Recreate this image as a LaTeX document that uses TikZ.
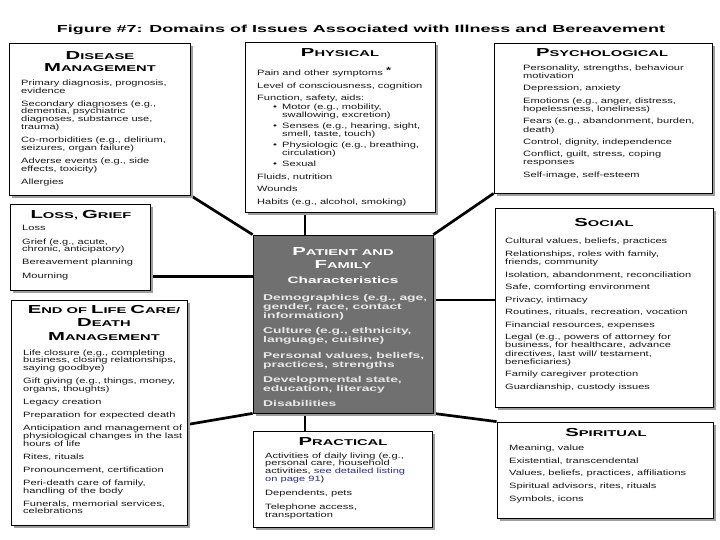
\documentclass[tikz,border=0pt]{standalone}
\usepackage{fontspec}
\setmainfont{Liberation Sans}[FakeStretch=1.44]
\newfontfamily\hdfont{Liberation Sans}[FakeStretch=1.75]
\newfontfamily\pffont{Liberation Sans}[FakeStretch=1.65]
\newfontfamily\ttlfont{Liberation Sans}[FakeStretch=1.76]
\usetikzlibrary{shadows,backgrounds}
\definecolor{shd}{gray}{0.62}
\definecolor{pfgray}{HTML}{707070}
\definecolor{pftext}{HTML}{E8E8E8}
\definecolor{linkblue}{HTML}{2A2AA8}
\newcommand\SCx[2]{{\fontsize{11.6}{12}\selectfont #1}{\fontsize{8.4}{12}\selectfont #2}}
\newcommand\bul{\hspace*{16pt}\makebox[9pt][l]{\textbullet}}
\newcommand\bulc{\hspace*{25pt}}
\begin{document}
\begin{tikzpicture}[x=1pt,y=-1pt,
  box/.style={draw=black, line width=0.8pt, fill=white, inner sep=0pt,
    drop shadow={shadow xshift=3pt,shadow yshift=-3pt,fill=shd,opacity=1}},
  conn/.style={line width=2.7pt, black},
  hd/.style={font=\hdfont\bfseries\fontsize{8.4}{12.5}\selectfont, align=center, inner sep=0pt, anchor=north},
  body/.style={font=\fontsize{7.7}{8.3}\selectfont, text=black!90, align=left, inner sep=0pt, anchor=north west}]
\useasboundingbox (0,0) rectangle (720,540);

% title
\node[anchor=base, inner sep=0pt, font=\ttlfont\bfseries\fontsize{10.2}{12}\selectfont] (title) at (361,32.3)
  {Figure \#7: Domains of Issues Associated with Illness and Bereavement};

% boxes
\node[box, minimum width=181pt, minimum height=152pt] (dm) at (99.5,119) {};
\node[box, minimum width=190pt, minimum height=170pt] (ph) at (340,127) {};
\node[box, minimum width=218pt, minimum height=150pt] (ps) at (603,118) {};
\node[box, minimum width=140pt, minimum height=86pt] (lg) at (80,247) {};
\node[box, fill=pfgray, minimum width=180pt, minimum height=178pt] (pf) at (343,324) {};
\node[box, minimum width=218pt, minimum height=199pt] (so) at (604,307.5) {};
\node[box, minimum width=176pt, minimum height=225pt] (el) at (99,412.5) {};
\node[box, minimum width=179pt, minimum height=96pt] (pr) at (342.5,479) {};
\node[box, minimum width=216pt, minimum height=96pt] (sp) at (605,470) {};

% connectors
\begin{scope}[on background layer]
\fill[white] (0,0) rectangle (720,540);
\draw[conn] (dm.south east) -- (pf.north west);
\draw[conn] ([xshift=-35pt]ph.south) -- ([xshift=-38pt]pf.north);
\draw[conn] (ps.south west) -- (pf.north east);
\draw[conn] ([yshift=14pt]lg.south east) -- ([yshift=14pt]lg.south east -| pf.west);
\draw[conn] ([yshift=7.5pt]so.west) -- ([yshift=7.5pt]so.west -| pf.east);
\draw[conn] ([yshift=-12pt]el.east) -- (pf.south west);
\draw[conn] ([xshift=-37.5pt]pr.north) -- ([xshift=-38pt]pf.south);
\draw[conn] (sp.north west) -- (pf.south east);
\end{scope}

% headings
\node[hd] (dmh) at (100,51) {\SCx{D}{ISEASE}\\\SCx{M}{ANAGEMENT}};
\node[hd] (phh) at (340,48) {\SCx{P}{HYSICAL}};
\node[hd] (psh) at (602,48) {\SCx{P}{SYCHOLOGICAL}};
\node[hd] (lgh) at (81,210) {\SCx{L}{OSS,} \SCx{G}{RIEF}};
\node[hd, text=white, font=\hdfont\bfseries\fontsize{8.4}{13}\selectfont] (pfh) at (343,247) {\SCx{P}{ATIENT AND}\\\SCx{F}{AMILY}};
\node[anchor=base, inner sep=0pt, text=white, font=\pffont\bfseries\fontsize{9.3}{11}\selectfont] (pfc) at (343,283) {Characteristics};
\node[hd] (soh) at (604,218) {\SCx{S}{OCIAL}};
\node[hd, font=\hdfont\bfseries\fontsize{8.4}{13.5}\selectfont] (elh) at (104,305) {\SCx{E}{ND OF} \SCx{L}{IFE} \SCx{C}{ARE/}\\\SCx{D}{EATH}\\\SCx{M}{ANAGEMENT}};
\node[hd] (prh) at (343,437) {\SCx{P}{RACTICAL}};
\node[hd] (sph) at (606,428) {\SCx{S}{PIRITUAL}};

% bodies
\node[body, font=\fontsize{7.7}{7.8}\selectfont] (dmb) at (21,79.5) {Primary diagnosis, prognosis,\\evidence\\[5.2pt]
Secondary diagnoses (e.g.,\\dementia, psychiatric\\diagnoses, substance use,\\trauma)\\[5.2pt]
Co-morbidities (e.g., delirium,\\seizures, organ failure)\\[5.2pt]
Adverse events (e.g., side\\effects, toxicity)\\[5.2pt]
Allergies};

\node[body] (phb) at (257,67) {Pain and other symptoms \raisebox{2pt}{\bfseries\fontsize{9}{9}\selectfont *}\\[4.4pt]
Level of consciousness, cognition\\[4.4pt]
Function, safety, aids:\\
\bul Motor (e.g., mobility,\\\bulc swallowing, excretion)\\[2.5pt]
\bul Senses (e.g., hearing, sight,\\\bulc smell, taste, touch)\\[2.5pt]
\bul Physiologic (e.g., breathing,\\\bulc circulation)\\[2.5pt]
\bul Sexual\\[4.4pt]
Fluids, nutrition\\[4.4pt]
Wounds\\[4.4pt]
Habits (e.g., alcohol, smoking)};

\node[body] (psb) at (523,64.5) {Personality, strengths, behaviour\\motivation\\[4pt]
Depression, anxiety\\[4pt]
Emotions (e.g., anger, distress,\\hopelessness, loneliness)\\[4pt]
Fears (e.g., abandonment, burden,\\death)\\[4pt]
Control, dignity, independence\\[4pt]
Conflict, guilt, stress, coping\\responses\\[4pt]
Self-image, self-esteem};

\node[body, font=\fontsize{7.7}{7.6}\selectfont] (lgb) at (22,225.5) {Loss\\[5.6pt]
Grief (e.g., acute,\\chronic, anticipatory)\\[5.6pt]
Bereavement planning\\[5.6pt]
Mourning};

\node[body, text=pftext, font=\pffont\bfseries\fontsize{8.4}{9}\selectfont] (pfb) at (263,294) {Demographics (e.g., age,\\gender, race, contact\\information)\\[6.4pt]
Culture (e.g., ethnicity,\\language, cuisine)\\[6.4pt]
Personal values, beliefs,\\practices, strengths\\[6.4pt]
Developmental state,\\education, literacy\\[6.4pt]
Disabilities};

\node[body] (sob) at (505,238) {Cultural values, beliefs, practices\\[4.2pt]
Relationships, roles with family,\\friends, community\\[4.2pt]
Isolation, abandonment, reconciliation\\[4.2pt]
Safe, comforting environment\\[4.2pt]
Privacy, intimacy\\[4.2pt]
Routines, rituals, recreation, vocation\\[4.2pt]
Financial resources, expenses\\[4.2pt]
Legal (e.g., powers of attorney for\\business, for healthcare, advance\\directives, last will/ testament,\\beneficiaries)\\[4.2pt]
Family caregiver protection\\[4.2pt]
Guardianship, custody issues};

\node[body, font=\fontsize{7.7}{7.7}\selectfont] (elb) at (23,349.5) {Life closure (e.g., completing\\business, closing relationships,\\saying goodbye)\\[5.4pt]
Gift giving (e.g., things, money,\\organs, thoughts)\\[5.4pt]
Legacy creation\\[5.4pt]
Preparation for expected death\\[5.4pt]
Anticipation and management of\\physiological changes in the last\\hours of life\\[5.4pt]
Rites, rituals\\[5.4pt]
Pronouncement, certification\\[5.4pt]
Peri-death care of family,\\handling of the body\\[5.4pt]
Funerals, memorial services,\\celebrations};

\node[body, font=\fontsize{7.7}{7.7}\selectfont] (prb) at (265,452.5) {Activities of daily living (e.g.,\\personal care, household\\activities, \textcolor{linkblue}{see detailed listing}\\\textcolor{linkblue}{on page 91})\\[6.6pt]
Dependents, pets\\[6.6pt]
Telephone access,\\transportation};

\node[body] (spb) at (509,444.5) {Meaning, value\\[4.5pt]
Existential, transcendental\\[4.5pt]
Values, beliefs, practices, affiliations\\[4.5pt]
Spiritual advisors, rites, rituals\\[4.5pt]
Symbols, icons};
\end{tikzpicture}
\end{document}
